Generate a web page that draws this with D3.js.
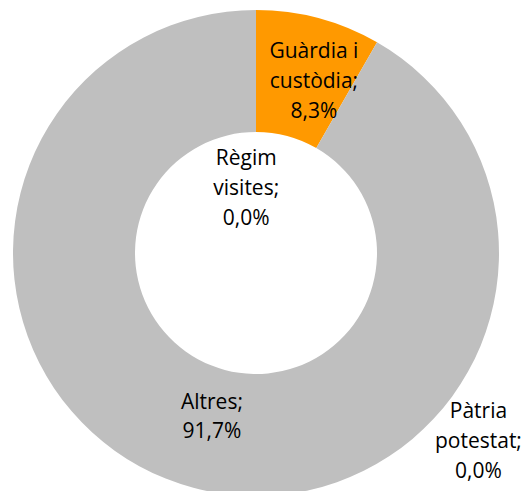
<!DOCTYPE html>
<html>
<head>
<meta charset="utf-8">
<script src="https://cdn.jsdelivr.net/npm/d3@7"></script>
<style>
  html, body { margin: 0; padding: 0; background: #fff; }
</style>
</head>
<body>
<svg id="chart"></svg>
<script>
// data
const categories = ['Guàrdia i custòdia', 'Règim visites', 'Pàtria potestat', 'Altres'];
const values = [8.3, 0.0, 0.0, 91.7];
const colors = ['#FF9900', '#A5A5A5', '#FFC000', '#BFBFBF'];
const labelLines = [
  ['Guàrdia i', 'custòdia;', '8,3%'],
  ['Règim', 'visites;', '0,0%'],
  ['Pàtria', 'potestat;', '0,0%'],
  ['Altres;', '91,7%'],
];

const width = 529, height = 491;
const cx = 256, cy = 253;
const outerR = 243, innerR = 121;
const lineH = 30;

// label placement: distance from center and angle nudge, like excel moves them
const labelRadius = [182, 66, 291, 169];
const labelAngleShift = [0.063, -0.67, 1.75, 0.003];

const svg = d3.select('#chart').attr('width', width).attr('height', height);
const g = svg.append('g').attr('transform', `translate(${cx},${cy})`);

const pie = d3.pie().sort(null).value((d) => d);
const arcs = pie(values);
const arc = d3.arc().innerRadius(innerR).outerRadius(outerR);

g.selectAll('path.slice')
  .data(arcs)
  .join('path')
  .attr('class', 'slice')
  .attr('d', arc)
  .attr('fill', (d, i) => colors[i]);

const labels = g
  .selectAll('text.label')
  .data(arcs)
  .join('text')
  .attr('class', 'label')
  .attr('text-anchor', 'middle')
  .style('font-family', '"Open Sans", sans-serif')
  .style('font-size', '21px')
  .style('fill', '#000')
  .attr('transform', (d, i) => {
    const a = (d.startAngle + d.endAngle) / 2 + labelAngleShift[i];
    const r = labelRadius[i];
    return `translate(${r * Math.sin(a)},${-r * Math.cos(a)})`;
  });

labels.each(function (d, i) {
  const lines = labelLines[i];
  const t = d3.select(this);
  lines.forEach((s, k) => {
    t.append('tspan')
      .attr('x', 0)
      .attr('y', (k - (lines.length - 1) / 2) * lineH)
      .attr('dy', '0.35em')
      .text(s);
  });
});
</script>
</body>
</html>
